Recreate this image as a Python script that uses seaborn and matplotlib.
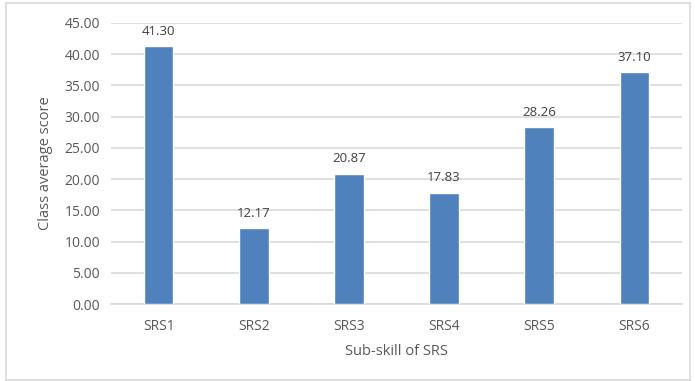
import pandas as pd
import matplotlib
matplotlib.use("Agg")
import matplotlib.pyplot as plt
import seaborn as sns
from matplotlib.patches import Rectangle

# --- Data ---
skills = ['SRS1', 'SRS2', 'SRS3', 'SRS4', 'SRS5', 'SRS6']
scores = [41.30, 12.17, 20.87, 17.83, 28.26, 37.10]

df = pd.DataFrame({'skill': skills, 'score': scores})

sns.set_theme(style="white")
plt.rcParams['font.family'] = ['Open Sans', 'DejaVu Sans']

text_gray = '#595959'
grid_gray = '#D9D9D9'

fig = plt.figure(figsize=(6.95, 3.81), dpi=100)
ax = fig.add_axes([0.16, 0.202, 0.821, 0.738])

sns.barplot(data=df, x='skill', y='score', color='#4F81BD', width=0.31,
            saturation=1, ax=ax, zorder=3)

# data labels
for i, v in enumerate(df['score']):
    ax.annotate(f"{v:.2f}", (i, v), xytext=(0, 6), textcoords='offset points',
                ha='center', va='bottom', fontsize=9.5, color='#404040')

ax.set_ylim(0, 45)
ax.set_yticks(range(0, 46, 5))
ax.set_yticklabels([f"{t:.2f}" for t in range(0, 46, 5)])
ax.yaxis.grid(True, color=grid_gray, linewidth=1.2, zorder=0)
ax.tick_params(axis='both', length=0, labelsize=10, colors=text_gray)
ax.tick_params(axis='x', pad=11)
ax.tick_params(axis='y', pad=8)

for side in ['top', 'right', 'left']:
    ax.spines[side].set_visible(False)
ax.spines['bottom'].set_color(grid_gray)
ax.spines['bottom'].set_linewidth(1.2)

ax.set_xlabel('Sub-skill of SRS', fontsize=10.5, color=text_gray, labelpad=7)
ax.set_ylabel('Class average score', fontsize=10.5, color=text_gray, labelpad=8)

# outer border like the chart frame
fig.patches.append(Rectangle((0.008, 0.003), 0.985, 0.99, transform=fig.transFigure,
                             fill=False, edgecolor=grid_gray, linewidth=1.2))

plt.savefig('out.png', dpi=100)
plt.close()
